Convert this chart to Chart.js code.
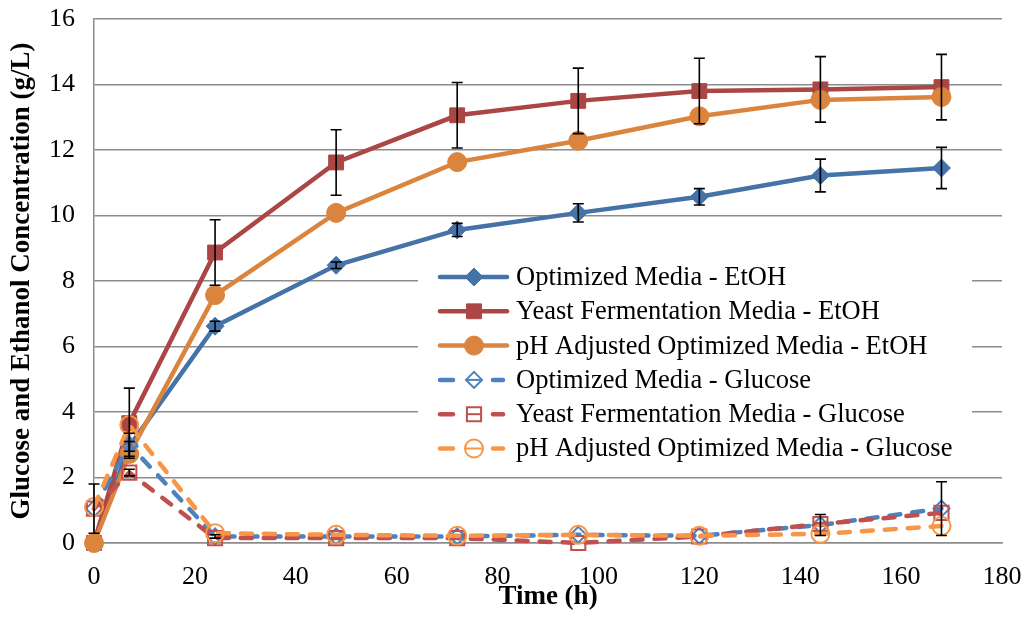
<!DOCTYPE html>
<html lang="en">
<head>
  <meta charset="UTF-8">
  <title>Glucose and Ethanol Concentration</title>
  <script src="https://cdn.jsdelivr.net/npm/chart.js"></script>
  <style>
    body { margin: 0; background: #fff; }
    #wrap { width: 1028px; height: 624px; }
  </style>
</head>
<body>

<div id="wrap">
  <canvas id="chart" width="1028" height="624"></canvas>
</div>

<script>
  // sampling times (h)
  const times = [0, 7, 24, 48, 72, 96, 120, 144, 168];

  // ethanol (g/L)
  const optEtoh   = [0, 2.95, 6.62, 8.48, 9.56, 10.08, 10.57, 11.22, 11.45];
  const yeastEtoh = [0, 3.66, 8.87, 11.62, 13.06, 13.5, 13.8, 13.85, 13.92];
  const phEtoh    = [0, 2.72, 7.57, 10.08, 11.63, 12.28, 13.03, 13.53, 13.62];

  // glucose (g/L)
  const optGlu   = [1.05, 3.0, 0.2, 0.2, 0.2, 0.25, 0.22, 0.55, 1.05];
  const yeastGlu = [1.05, 2.15, 0.15, 0.15, 0.15, 0.0, 0.2, 0.58, 0.92];
  const phGlu    = [1.1, 3.6, 0.3, 0.25, 0.22, 0.25, 0.22, 0.28, 0.52];

  // standard deviations
  const optEtohErr   = [0, 0.15, 0.15, 0.1, 0.2, 0.28, 0.25, 0.5, 0.63];
  const yeastEtohErr = [0, 1.07, 1.0, 1.0, 1.0, 1.0, 1.0, 1.0, 1.0];
  const optGluErr    = [0.75, 0.35, 0.05, 0, 0, 0, 0, 0.32, 0.82];
  const yeastGluErr  = [0, 0.1, 0, 0, 0, 0, 0, 0, 0];

  const seriesLabels = [
    'Optimized Media - EtOH',
    'Yeast Fermentation Media - EtOH',
    'pH Adjusted Optimized Media - EtOH',
    'Optimized Media - Glucose',
    'Yeast Fermentation Media - Glucose',
    'pH Adjusted Optimized Media - Glucose'
  ];

  const FONT = "'Liberation Serif', 'Times New Roman', serif";
  const pts = ys => times.map((t, i) => ({ x: t, y: ys[i] }));

  function solid(label, ys, color, style, radius, err) {
    return {
      label, data: pts(ys), errorBars: err, clip: false,
      borderColor: color, backgroundColor: color,
      borderWidth: 4.5, tension: 0,
      pointStyle: style, pointRadius: radius,
      pointBackgroundColor: color, pointBorderColor: color, pointBorderWidth: 1
    };
  }

  function dashed(label, ys, color, style, radius, err) {
    return {
      label, data: pts(ys), errorBars: err, clip: false,
      borderColor: color, backgroundColor: color,
      borderWidth: 4.5, borderDash: [11, 12], borderCapStyle: 'round', tension: 0,
      pointStyle: style, pointRadius: radius,
      pointBackgroundColor: 'rgba(0,0,0,0)', pointBorderColor: color, pointBorderWidth: 2
    };
  }

  const datasets = [
    solid(seriesLabels[0], optEtoh, '#4572A7', 'rectRot', 9, optEtohErr),
    solid(seriesLabels[1], yeastEtoh, '#AA4643', 'rect', 10.5, yeastEtohErr),
    solid(seriesLabels[2], phEtoh, '#DB843D', 'circle', 9.5, null),
    dashed(seriesLabels[3], optGlu, '#4F81BD', 'rectRot', 8, optGluErr),
    dashed(seriesLabels[4], yeastGlu, '#C0504D', 'rect', 10, yeastGluErr),
    dashed(seriesLabels[5], phGlu, '#F79646', 'circle', 9, null)
  ];
  // later series sit on top
  datasets.forEach((d, i) => d.order = datasets.length - i);

  // vertical error bars with caps
  const errorBarPlugin = {
    id: 'errorBars',
    afterDatasetsDraw(chart) {
      const ctx = chart.ctx, xs = chart.scales.x, ys = chart.scales.y;
      ctx.save();
      ctx.strokeStyle = '#000';
      ctx.lineWidth = 1.6;
      chart.data.datasets.forEach(ds => {
        if (!ds.errorBars) return;
        ds.data.forEach((p, i) => {
          const e = ds.errorBars[i];
          if (!e) return;
          const px = xs.getPixelForValue(p.x);
          const top = ys.getPixelForValue(p.y + e);
          const bot = ys.getPixelForValue(Math.max(0, p.y - e));
          ctx.beginPath();
          ctx.moveTo(px, top); ctx.lineTo(px, bot);
          ctx.moveTo(px - 5.5, top); ctx.lineTo(px + 5.5, top);
          ctx.moveTo(px - 5.5, bot); ctx.lineTo(px + 5.5, bot);
          ctx.stroke();
        });
      });
      ctx.restore();
    }
  };

  // legend box inside the plot area
  const insideLegend = {
    id: 'insideLegend',
    afterDraw(chart) {
      const ctx = chart.ctx;
      const x0 = 418, y0 = 259, w = 554, h = 208;
      const rowY = 277, rowStep = 34.3;
      ctx.save();
      ctx.fillStyle = '#fff';
      ctx.fillRect(x0, y0, w, h);
      chart.data.datasets.forEach((ds, i) => {
        const y = rowY + i * rowStep;
        ctx.save();
        ctx.strokeStyle = ds.borderColor;
        ctx.lineWidth = ds.borderWidth;
        ctx.lineCap = 'round';
        if (ds.borderDash) {
          ctx.beginPath(); ctx.moveTo(440, y); ctx.lineTo(453, y); ctx.stroke();
          ctx.beginPath(); ctx.moveTo(493, y); ctx.lineTo(503, y); ctx.stroke();
        } else {
          ctx.beginPath(); ctx.moveTo(440, y); ctx.lineTo(507, y); ctx.stroke();
        }
        ctx.restore();
        ctx.save();
        ctx.fillStyle = ds.pointBackgroundColor;
        ctx.strokeStyle = ds.pointBorderColor;
        ctx.lineWidth = ds.pointBorderWidth;
        Chart.helpers.drawPoint(ctx, {
          pointStyle: ds.pointStyle, radius: ds.pointRadius,
          borderWidth: ds.pointBorderWidth, rotation: 0
        }, 474, y);
        if (ds.borderDash) {
          ctx.strokeStyle = ds.borderColor;
          ctx.lineWidth = 2;
          ctx.beginPath(); ctx.moveTo(466, y); ctx.lineTo(482, y); ctx.stroke();
        }
        ctx.restore();
        ctx.fillStyle = '#000';
        ctx.font = '26.5px ' + FONT;
        ctx.textBaseline = 'middle';
        ctx.fillText(ds.label, 516, y + 1);
      });
      ctx.restore();
    }
  };

  // keep the plot area fixed; labels may hang outside it
  function noScalePadding(scale) {
    scale.paddingTop = 0; scale.paddingBottom = 0;
    scale.paddingLeft = 0; scale.paddingRight = 0;
  }

  new Chart(document.getElementById('chart'), {
    type: 'line',
    data: { datasets },
    options: {
      responsive: false,
      animation: false,
      layout: { padding: { top: 19, right: 26, left: 0, bottom: 0 } },
      plugins: { legend: { display: false }, tooltip: { enabled: false } },
      scales: {
        x: {
          type: 'linear', min: 0, max: 180,
          ticks: { stepSize: 20, color: '#000', padding: 19, font: { family: FONT, size: 26 } },
          grid: { display: false, drawTicks: false },
          border: { display: true, color: '#8c8c8c', width: 1.5 },
          title: { display: true, text: 'Time (h)', color: '#000', padding: { top: 0, bottom: 11 },
                   font: { family: FONT, size: 27, weight: 'bold' } },
          afterFit(scale) { scale.height = 81; noScalePadding(scale); }
        },
        y: {
          min: 0, max: 16,
          ticks: { stepSize: 2, color: '#000', padding: 19, font: { family: FONT, size: 26 } },
          grid: { color: '#8c8c8c', lineWidth: 1.5, drawTicks: false },
          border: { display: true, color: '#8c8c8c', width: 1.5 },
          title: { display: true, text: 'Glucose and Ethanol Concentration (g/L)', color: '#000',
                   padding: { top: 6, bottom: 0 },
                   font: { family: FONT, size: 27, weight: 'bold' } },
          afterFit(scale) { scale.width = 94; noScalePadding(scale); }
        }
      }
    },
    plugins: [errorBarPlugin, insideLegend]
  });
</script>

</body>
</html>
